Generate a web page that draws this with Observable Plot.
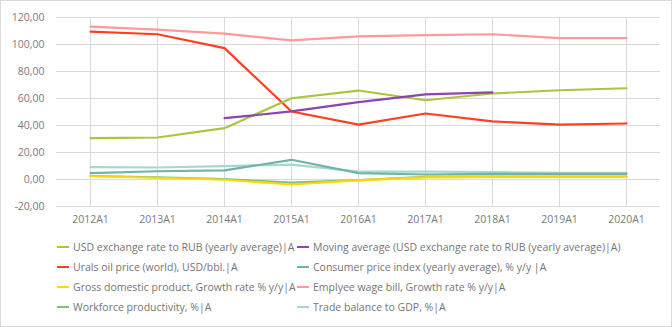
<!DOCTYPE html>
<html>
<head>
<meta charset="utf-8">
<script src="https://cdn.jsdelivr.net/npm/d3@7"></script>
<script src="https://cdn.jsdelivr.net/npm/@observablehq/plot@0.6"></script>
<style>
  html, body { margin: 0; padding: 0; background: #fff; }
  #wrap { position: relative; width: 672px; height: 327px; font-family: "Open Sans", sans-serif; }
  #frame { position: absolute; left: 0; top: 0; width: 670px; height: 325px; border: 1px solid #d9d9d9; box-sizing: content-box; pointer-events: none; }
  #chart { position: absolute; left: 0; top: 0; }
  #legend { position: absolute; left: 0; top: 240px; width: 672px; }
  .item { position: absolute; font-size: 10.5px; color: #757575; white-space: nowrap; line-height: 14px; }
  .sw { display: inline-block; width: 12px; height: 2px; vertical-align: middle; margin-right: 4px; position: relative; top: -1px; }
</style>
</head>
<body>
<div id="wrap">
  <div id="chart"></div>
  <div id="legend"></div>
  <div id="frame"></div>
</div>
<script>
const years = ["2012A1","2013A1","2014A1","2015A1","2016A1","2017A1","2018A1","2019A1","2020A1"];
const yTicks = [-20, 0, 20, 40, 60, 80, 100, 120];

const usdRub      = [30.6, 31.1, 38.0, 60.2, 65.9, 58.7, 63.7, 66.1, 67.6];
const movingAvg   = [null, null, 45.4, 50.4, 57.3, 63.0, 64.6, null, null];
const uralsOil    = [109.6, 107.6, 97.3, 50.4, 40.7, 48.9, 43.0, 40.7, 41.5];
const cpi         = [4.7, 6.1, 6.7, 14.6, 4.7, 3.7, 4.2, 4.2, 4.2];
const gdp         = [2.4, 1.3, -0.2, -3.7, -0.7, 1.6, 1.9, 2.0, 2.0];
const wageBill    = [113.3, 111.0, 108.0, 103.0, 106.0, 106.9, 107.6, 104.7, 104.7];
const workforce   = [2.6, 1.6, 0.3, -2.3, -0.4, 1.9, 2.1, 2.1, 2.1];
const tradeBal    = [9.1, 8.9, 9.9, 11.0, 5.9, 5.9, 5.5, 5.0, 4.9];

const series = [
  {name: "USD exchange rate to RUB (yearly average)|A", values: usdRub, color: "#a9c63c"},
  {name: "Moving average (USD exchange rate to RUB (yearly average)|A)", values: movingAvg, color: "#8e44ad"},
  {name: "Urals oil price (world), USD/bbl.|A", values: uralsOil, color: "#ff3f22"},
  {name: "Consumer price index (yearly average), % y/y |A", values: cpi, color: "#6fb3ab"},
  {name: "Gross domestic product, Growth rate % y/y|A", values: gdp, color: "#ffd800"},
  {name: "Emplyee wage bill, Growth rate % y/y|A", values: wageBill, color: "#ff9a9a"},
  {name: "Workforce productivity, %|A", values: workforce, color: "#7cc483"},
  {name: "Trade balance to GDP, %|A", values: tradeBal, color: "#a9d6d0"}
];

// drawing order (back to front)
const drawOrder = [6, 7, 3, 4, 5, 2, 0, 1];

const rows = [];
series.forEach((s, si) => s.values.forEach((v, i) => {
  if (v !== null) rows.push({series: s.name, si, year: years[i], value: v});
}));

const fmt = d => d.toFixed(2).replace(".", ",");

const marks = [
  Plot.gridY(yTicks, {stroke: "#d9d9d9", strokeOpacity: 1, strokeWidth: 1}),
  Plot.ruleX(years, {x: d => d, y1: -20, y2: 120, stroke: "#d9d9d9", strokeWidth: 1}),
  Plot.axisY(yTicks, {tickSize: 0, tickPadding: 12, tickFormat: fmt, fill: "#7a7a7a", fontSize: 10.5}),
  Plot.axisX(years, {tickSize: 0, tickPadding: 9, fill: "#7a7a7a", fontSize: 10.5})
];
drawOrder.forEach(si => {
  marks.push(Plot.line(rows.filter(r => r.si === si), {
    x: "year", y: "value", stroke: series[si].color, strokeWidth: 2.2, curve: "linear"
  }));
});

const chart = Plot.plot({
  width: 672,
  height: 230,
  marginLeft: 56,
  marginRight: 12,
  marginTop: 17,
  marginBottom: 24,
  style: {fontFamily: "'Open Sans', sans-serif", background: "transparent"},
  x: {type: "point", domain: years, padding: 0.5, label: null, axis: null},
  y: {domain: [-20, 120], label: null, axis: null},
  marks
});
document.getElementById("chart").appendChild(chart);

// legend: two columns, row-wise order
const legend = document.getElementById("legend");
const colX = [57, 297];
const rowY = [0, 20, 40, 60];
series.forEach((s, i) => {
  const el = document.createElement("div");
  el.className = "item";
  el.style.left = colX[i % 2] + "px";
  el.style.top = rowY[Math.floor(i / 2)] + "px";
  const sw = document.createElement("span");
  sw.className = "sw";
  sw.style.backgroundColor = s.color;
  el.appendChild(sw);
  el.appendChild(document.createTextNode(s.name));
  legend.appendChild(el);
});
</script>
</body>
</html>
